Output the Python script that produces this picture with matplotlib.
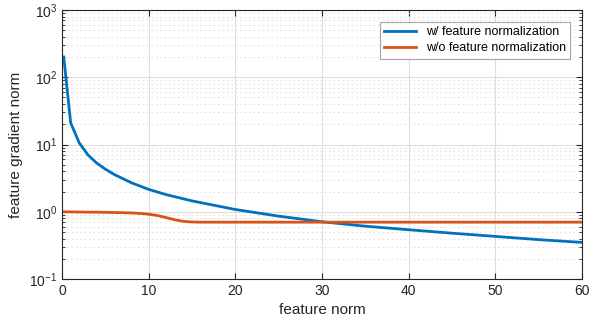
import matplotlib.pyplot as plt
import numpy as np
from matplotlib.ticker import LogLocator, FixedLocator

plt.rcParams['font.family'] = ['Liberation Sans', 'DejaVu Sans']
plt.rcParams['mathtext.fontset'] = 'custom'
plt.rcParams['mathtext.rm'] = 'Liberation Sans'

# data
x_norm = [0.2, 1, 2, 3, 4, 5, 6, 8, 10, 12, 15, 20, 25, 30, 35, 40, 45, 50, 55, 60]
g_norm = [200, 21, 10.5, 7, 5.3, 4.3, 3.6, 2.7, 2.15, 1.8, 1.45, 1.08, 0.86, 0.71, 0.61, 0.54, 0.48, 0.43, 0.385, 0.35]

x_raw = [0, 2, 4, 6, 8, 9, 10, 11, 12, 13, 14, 15, 16, 20, 30, 40, 50, 60]
g_raw = [1.0, 0.99, 0.985, 0.975, 0.96, 0.945, 0.92, 0.88, 0.82, 0.76, 0.72, 0.705, 0.70, 0.70, 0.70, 0.70, 0.70, 0.70]

labels = ['w/ feature normalization', 'w/o feature normalization']
xticks = [0, 10, 20, 30, 40, 50, 60]

fig = plt.figure(figsize=(6, 3.26), dpi=100)
ax = fig.add_axes([62/600, 1 - 279/326, 520/600, 269/326])

ax.plot(x_norm, g_norm, color='#0072BD', lw=2, label=labels[0])
ax.plot(x_raw, g_raw, color='#D95319', lw=2, label=labels[1])

ax.set_yscale('log')
ax.set_xlim(0, 60)
ax.set_ylim(1e-1, 1e3)
ax.xaxis.set_major_locator(FixedLocator(xticks))
ax.yaxis.set_major_locator(LogLocator(base=10))
ax.yaxis.set_minor_locator(LogLocator(base=10, subs=np.arange(2, 10)))
ax.grid(True, which='major', color='#dedede', lw=0.8)
ax.grid(True, which='minor', axis='y', color='#e2e2e2', lw=0.8, ls=(0, (1.5, 2.5)))
ax.grid(False, which='minor', axis='x')
ax.set_axisbelow(True)

ax.tick_params(which='both', direction='in', top=True, right=True, labelsize=10, colors='#262626')
ax.tick_params(which='major', length=4)
ax.tick_params(which='minor', length=2)
for s in ax.spines.values():
    s.set_color('#262626')
    s.set_linewidth(0.8)

ax.set_xlabel('feature norm', fontsize=11, color='#262626')
ax.set_ylabel('feature gradient norm', fontsize=11, color='#262626')

leg = ax.legend(loc='upper right', fontsize=9, fancybox=False, framealpha=1,
                edgecolor='#a6a6a6', handlelength=2.5, borderpad=0.35,
                labelspacing=0.3, borderaxespad=0,
                bbox_to_anchor=(0.977, 0.955))
leg.get_frame().set_linewidth(0.8)

fig.savefig('out.png', dpi=100)
